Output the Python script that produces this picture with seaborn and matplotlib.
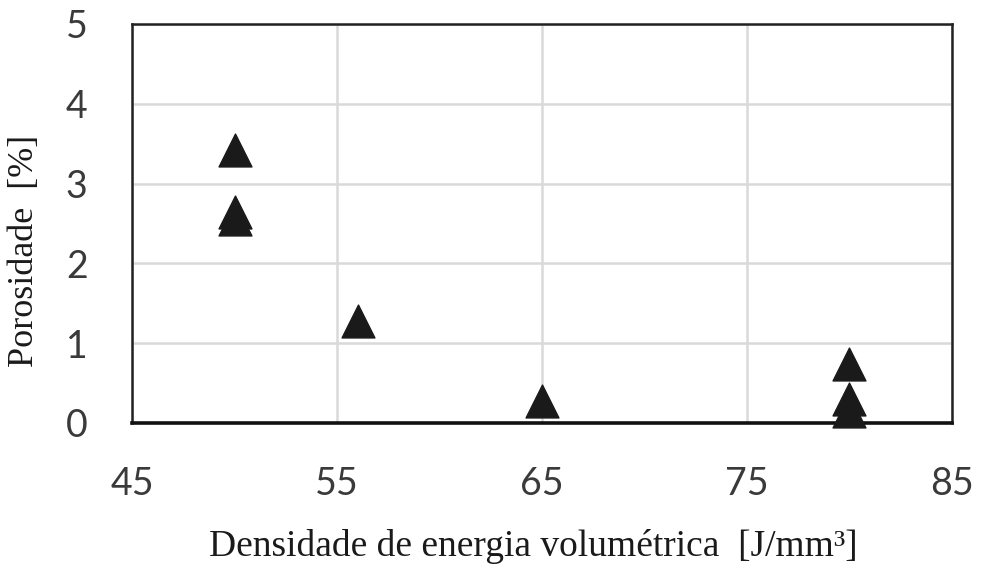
import matplotlib
matplotlib.use("Agg")
import matplotlib.pyplot as plt
import seaborn as sns
import pandas as pd

# Volumetric energy density [J/mm³] and measured porosity [%]
energy_density = [50, 50, 50, 56, 65, 80, 80, 80]
porosity = [3.42, 2.65, 2.55, 1.28, 0.28, 0.74, 0.30, 0.15]

x_ticks = [45, 55, 65, 75, 85]
y_ticks = [0, 1, 2, 3, 4, 5]

df = pd.DataFrame({"energia": energy_density, "porosidade": porosity})

sns.set_theme(style="white")

fig = plt.figure(figsize=(9.81, 5.71), dpi=100)
ax = fig.add_axes([0.1346, 0.2592, 0.8358, 0.6988])

sns.scatterplot(data=df, x="energia", y="porosidade", marker="^", s=560,
                color="#1a1a1a", edgecolor="#1a1a1a", linewidth=1,
                clip_on=False, zorder=5, ax=ax, legend=False)

ax.set_xlim(45, 85)
ax.set_ylim(0, 5)
ax.set_xticks(x_ticks)
ax.set_yticks(y_ticks)
ax.set_xticklabels([str(v) for v in x_ticks])
ax.set_yticklabels([str(v) for v in y_ticks])

ax.grid(True, color="#d9d9d9", linewidth=1.8, zorder=0)
ax.set_axisbelow(True)

for side in ["top", "left", "right"]:
    ax.spines[side].set_color("#222222")
    ax.spines[side].set_linewidth(1.8)
ax.spines["bottom"].set_color("#111111")
ax.spines["bottom"].set_linewidth(2.6)

ax.tick_params(axis="both", length=0, labelsize=27, labelcolor="#3a3a3a")
ax.tick_params(axis="y", pad=32)
ax.tick_params(axis="x", pad=31)
for lab in ax.get_xticklabels() + ax.get_yticklabels():
    lab.set_fontfamily("Lato")

ax.set_xlabel("Densidade de energia volumétrica  [J/mm³]",
              fontsize=27, family="Liberation Serif", color="#1a1a1a")
ax.set_ylabel("Porosidade  [%]",
              fontsize=26, family="Liberation Serif", color="#1a1a1a")
ax.xaxis.set_label_coords(0.489, -0.265)
ax.yaxis.set_label_coords(-0.111, 0.43)

fig.savefig("out.png", dpi=100, facecolor="white")
